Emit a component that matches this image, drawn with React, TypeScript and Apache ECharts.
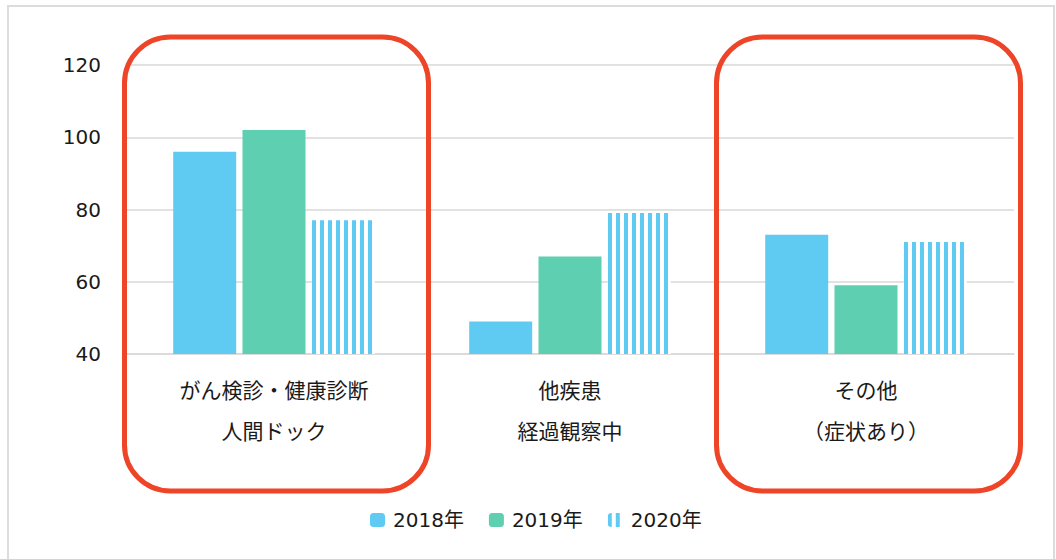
import React, { useEffect, useRef } from "react";
import * as echarts from "echarts";

const categories = ["がん検診・健康診断\n人間ドック", "他疾患\n経過観察中", "その他\n（症状あり）"];
const seriesNames = ["2018年", "2019年", "2020年"];
const values2018 = [96, 49, 73];
const values2019 = [102, 67, 59];
const values2020 = [77, 79, 71];
const yMin = 40;
const yMax = 120;
const yInterval = 20;
const highlightedCategories = [0, 2];

const BLUE = "#5FCBF3";
const GREEN = "#5ECFB1";
const RED = "#EE4427";
const FONT = 'Verdana, "DejaVu Sans", "Noto Sans CJK JP", sans-serif';

export default function App() {
  const ref = useRef<HTMLDivElement>(null);
  useEffect(() => {
    if (!ref.current) return;
    const chart = echarts.init(ref.current, null, { renderer: "svg" });
    chart.setOption({
      animation: false,
      backgroundColor: "#ffffff",
      textStyle: { fontFamily: FONT, color: "#1a1a1a" },
      grid: { left: 126, right: 42, top: 65, bottom: 205 },
      legend: {
        data: seriesNames,
        left: 370,
        top: 510,
        padding: 0,
        itemWidth: 15,
        itemHeight: 14,
        itemGap: 25,
        textStyle: { fontFamily: FONT, fontSize: 20, color: "#1a1a1a", padding: [0, 0, 0, 3] },
      },
      xAxis: {
        type: "category",
        data: categories,
        axisLine: { show: true, lineStyle: { color: "#d9d9d9", width: 1.5 } },
        axisTick: { show: false },
        axisLabel: {
          margin: 16,
          fontSize: 21,
          lineHeight: 41,
          color: "#1a1a1a",
          fontFamily: FONT,
          interval: 0,
        },
      },
      yAxis: {
        type: "value",
        min: yMin,
        max: yMax,
        interval: yInterval,
        axisLine: { show: false },
        axisTick: { show: false },
        axisLabel: { margin: 25, fontSize: 20, color: "#1a1a1a", fontFamily: FONT, padding: [0, 0, 4, 0] },
        splitLine: { lineStyle: { color: "#d9d9d9", width: 1.5 } },
      },
      series: [
        {
          name: seriesNames[0],
          type: "bar",
          data: values2018,
          barWidth: 63,
          barGap: "10%",
          itemStyle: { color: BLUE },
        },
        {
          name: seriesNames[1],
          type: "bar",
          data: values2019,
          barWidth: 63,
          barGap: "10%",
          itemStyle: { color: GREEN },
        },
        {
          name: seriesNames[2],
          type: "bar",
          data: values2020,
          barWidth: 63,
          barGap: "10%",
          itemStyle: {
            color: "#ffffff",
            decal: {
              symbol: "rect",
              symbolSize: 1,
              color: BLUE,
              dashArrayX: [4, 4],
              dashArrayY: [10, 0],
              rotation: 0,
            },
          },
        },
      ],
    });

    const graphics: any[] = [
      {
        type: "rect",
        shape: { x: 8, y: 6, width: 1046, height: 600 },
        style: { fill: "none", stroke: "#dcdcdc", lineWidth: 2 },
        z: 90,
        silent: true,
      },
    ];
    highlightedCategories.forEach((ci) => {
      const cx = chart.convertToPixel({ xAxisIndex: 0 }, ci) as number;
      graphics.push({
        type: "rect",
        shape: { x: cx + 2.5 - 152, y: 37, width: 304, height: 454, r: 46 },
        style: { fill: "none", stroke: RED, lineWidth: 5 },
        z: 100,
        silent: true,
      });
    });
    chart.setOption({ graphic: graphics });

    return () => chart.dispose();
  }, []);
  return (
    <div
      ref={ref}
      style={{ position: "absolute", left: 0, top: 0, width: 1056, height: 559 }}
    />
  );
}
